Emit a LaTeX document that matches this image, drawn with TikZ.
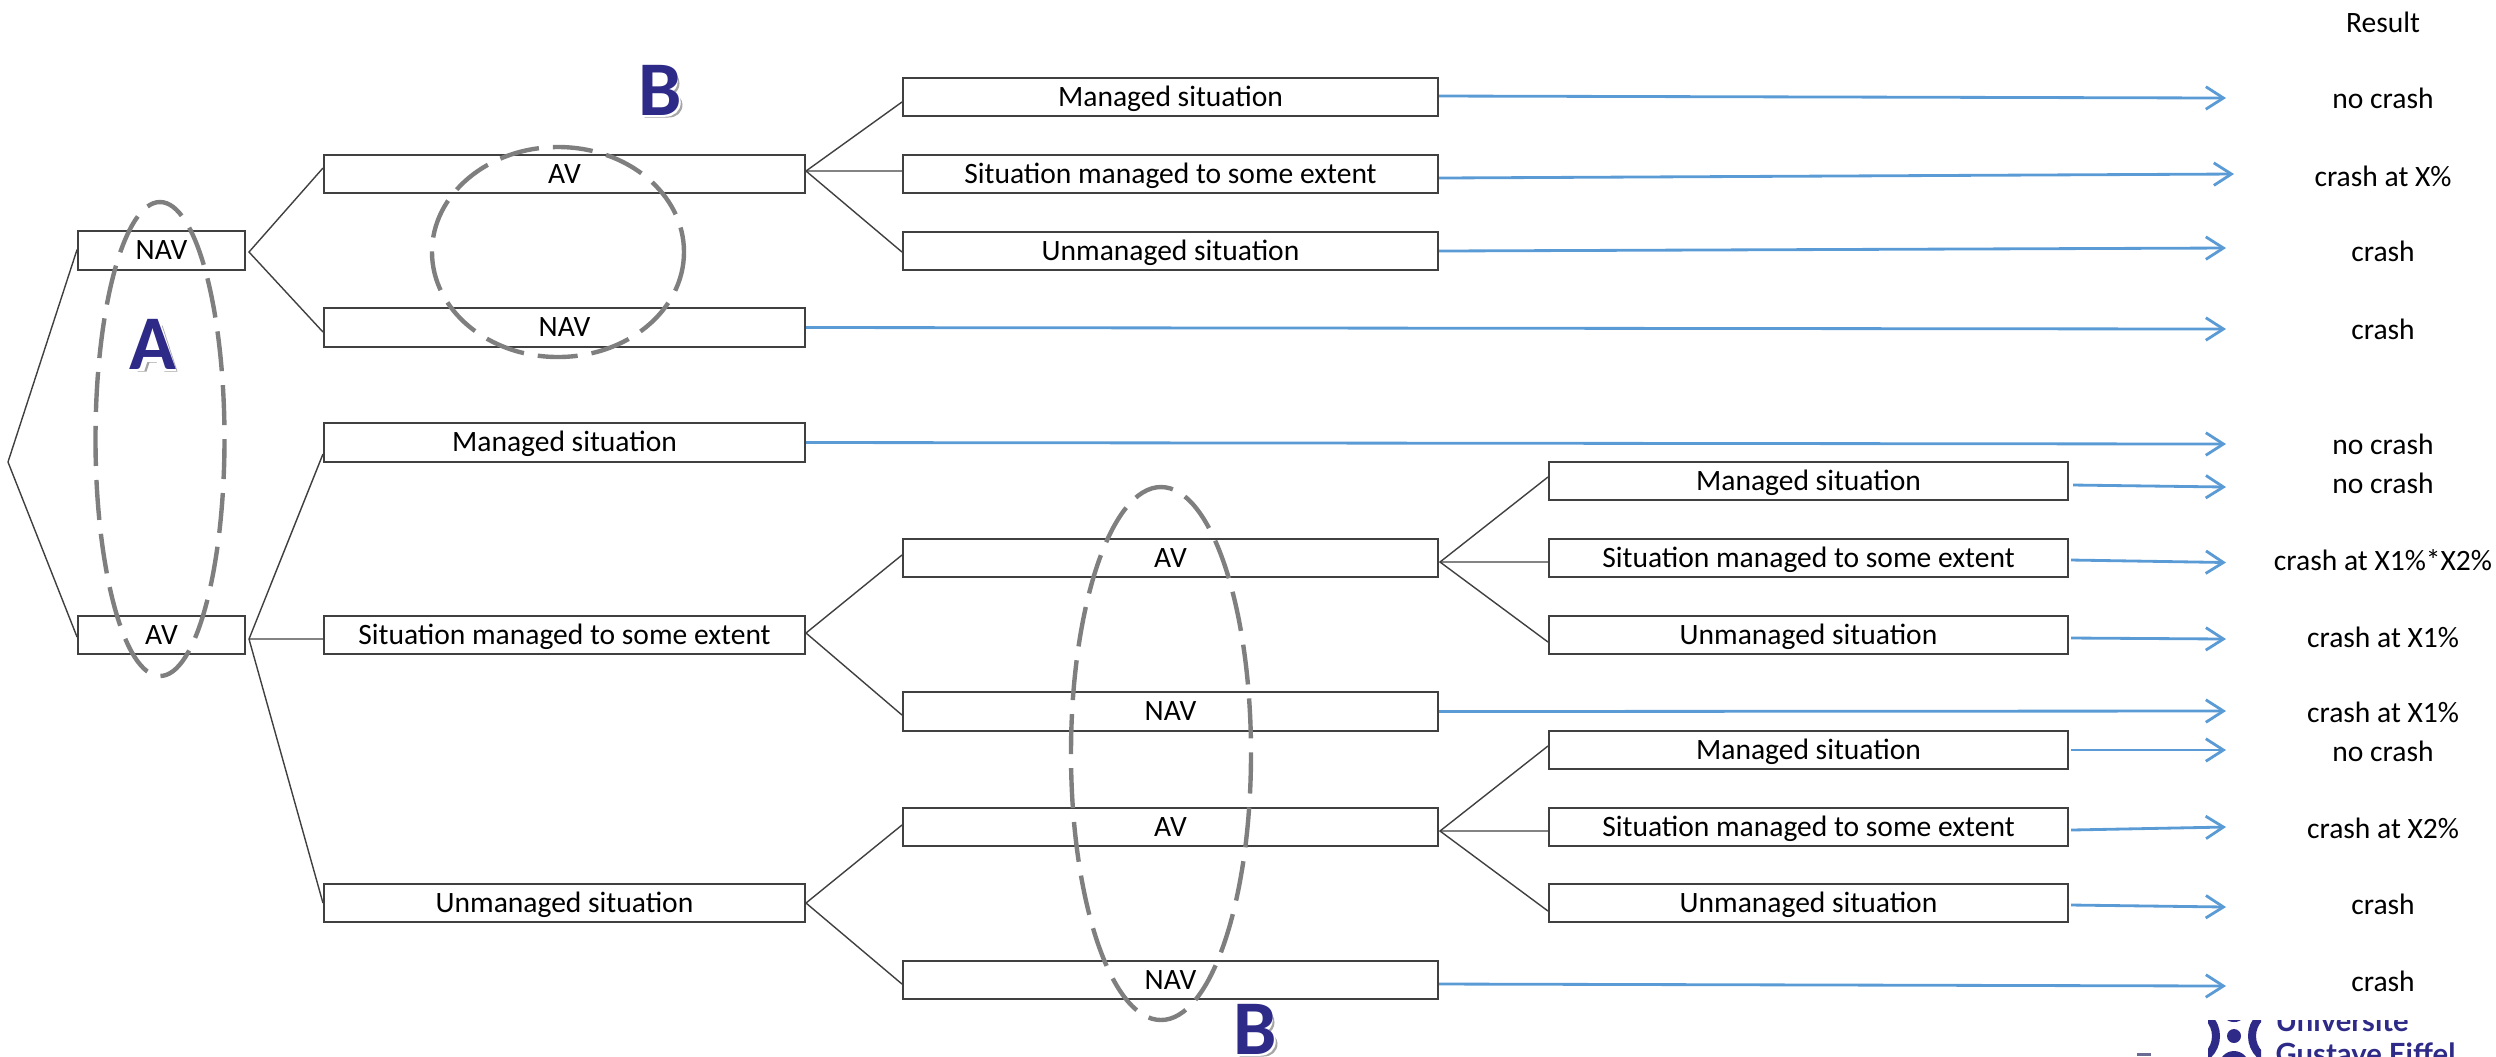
\documentclass[tikz,border=0pt]{standalone}
\usepackage{fontspec}
\setmainfont{Carlito}
\newfontfamily\logofont{Lato}
\usetikzlibrary{arrows.meta}
\definecolor{arrowblue}{HTML}{5B9BD5}
\definecolor{ringgray}{HTML}{7F7F7F}
\definecolor{uni}{HTML}{2E2A87}
\definecolor{edgegray}{HTML}{404040}
\tikzset{
  tbox/.style={draw=edgegray,line width=0.5pt,fill=white,minimum height=0.385cm,inner sep=0pt,text height=5.3pt,text depth=0pt,font=\fontsize{8.4}{10}\selectfont},
  lvlA/.style={tbox,minimum width=1.67cm},
  lvlB/.style={tbox,minimum width=4.81cm},
  lvlC/.style={tbox,minimum width=5.35cm},
  lvlD/.style={tbox,minimum width=5.19cm},
  res/.style={font=\fontsize{8.4}{10}\selectfont,inner sep=0pt},
  link/.style={draw=edgegray,line width=0.4pt},
  flow/.style={draw=arrowblue,line width=0.8pt,-{Straight Barb[length=5pt,width=6.4pt,line width=0.8pt]}},
  ring/.style={draw=ringgray,line width=1.25pt,dash pattern=on 0.40cm off 0.14cm},
  big/.style={font=\bfseries\fontsize{22}{24}\selectfont,text=uni,inner sep=0pt,anchor=base},
  halo/.style={draw=white,line width=1pt,fill=white},
  logotext/.style={font=\logofont\bfseries\fontsize{8.3}{10}\selectfont,text=uni,inner sep=0pt,anchor=base west},
}
\begin{document}
\begin{tikzpicture}[x=0.01cm,y=-0.01cm]
\useasboundingbox (0,0) rectangle (2496,1056);
% boxes
\node[lvlA] (nav) at (161.5,250.5) {NAV};
\node[lvlA] (av) at (161.5,635) {AV};
\node[lvlB] (bav) at (564.5,174) {AV};
\node[lvlB] (bnav) at (564.5,327.5) {NAV};
\node[lvlB] (bm) at (564.5,442.5) {Managed situation};
\node[lvlB] (bs) at (564.5,635) {Situation managed to some extent};
\node[lvlB] (bu) at (564.5,903) {Unmanaged situation};
\node[lvlC] (cm) at (1170.5,97) {Managed situation};
\node[lvlC] (cs) at (1170.5,174) {Situation managed to some extent};
\node[lvlC] (cu) at (1170.5,251) {Unmanaged situation};
\node[lvlC] (dav) at (1170.5,558) {AV};
\node[lvlC] (dnav) at (1170.5,711.5) {NAV};
\node[lvlC] (eav) at (1170.5,827) {AV};
\node[lvlC] (enav) at (1170.5,980) {NAV};
\node[lvlD] (fm) at (1808.5,481) {Managed situation};
\node[lvlD] (fs) at (1808.5,558) {Situation managed to some extent};
\node[lvlD] (fu) at (1808.5,635) {Unmanaged situation};
\node[lvlD] (gm) at (1808.5,750) {Managed situation};
\node[lvlD] (gs) at (1808.5,827) {Situation managed to some extent};
\node[lvlD] (gu) at (1808.5,903) {Unmanaged situation};
% results
\node[res] (r0) at (2383,22) {Result};
\coordinate (t1) at (2226,98);
\coordinate (t2) at (2234,174);
\coordinate (t3) at (2226,248);
\coordinate (t4) at (2226,329);
\coordinate (t5) at (2226,444);
\coordinate (t6) at (2226,487);
\coordinate (t7) at (2226,562.5);
\coordinate (t8) at (2226,639);
\coordinate (t9) at (2226,711);
\coordinate (t10) at (2226,750);
\coordinate (t11) at (2226,827);
\coordinate (t12) at (2226,907);
\coordinate (t13) at (2226,986);
\node[res] (r1) at (2383,98) {no crash};
\node[res] (r2) at (2383,176) {crash at X\%};
\node[res] (r3) at (2383,251) {crash};
\node[res] (r4) at (2383,329) {crash};
\node[res] (r5) at (2383,444) {no crash};
\node[res] (r6) at (2383,483) {no crash};
\node[res] (r7) at (2383,560) {crash at X1\%*X2\%};
\node[res] (r8) at (2383,637) {crash at X1\%};
\node[res] (r9) at (2383,712) {crash at X1\%};
\node[res] (r10) at (2383,751) {no crash};
\node[res] (r11) at (2383,828) {crash at X2\%};
\node[res] (r12) at (2383,904) {crash};
\node[res] (r13) at (2383,981) {crash};
% tree links
\coordinate (root) at (8,462);
\coordinate (aN) at (249,252);
\coordinate (aA) at (249,639);
\coordinate (aB) at (806,171);
\coordinate (aS) at (806,633);
\coordinate (aU) at (806,903);
\coordinate (aD) at (1440,562);
\coordinate (aE) at (1440,831);
\draw[link] ([yshift=0.01cm]nav.west) -- (root) -- ([yshift=-0.02cm]av.west);
\draw[link] ([yshift=0.06cm]bav.west) -- (aN) -- ([yshift=-0.045cm]bnav.west);
\draw[link] ([yshift=-0.115cm]bm.west) -- (aA) -- (bu.west);
\draw[link] (aA) -- ([yshift=-0.04cm]bs.west);
\draw[link] ([yshift=-0.05cm]cm.west) -- (aB) -- ([yshift=-0.01cm]cu.west);
\draw[link] (aB) -- ([yshift=0.03cm]cs.west);
\draw[link] ([yshift=0.03cm]dav.west) -- (aS) -- ([yshift=-0.035cm]dnav.west);
\draw[link] ([yshift=0.02cm]eav.west) -- (aU) -- ([yshift=-0.04cm]enav.west);
\draw[link] ([yshift=0.04cm]fm.west) -- (aD) -- ([yshift=-0.07cm]fu.west);
\draw[link] (aD) -- ([yshift=-0.04cm]fs.west);
\draw[link] ([yshift=0.04cm]gm.west) -- (aE) -- ([yshift=-0.08cm]gu.west);
\draw[link] (aE) -- ([yshift=-0.04cm]gs.west);
% arrows
\draw[flow] ([yshift=0.01cm]cm.east) -- (t1);
\draw[flow] ([yshift=-0.04cm]cs.east) -- (t2);
\draw[flow] (cu.east) -- (t3);
\draw[flow] (bnav.east) -- (t4);
\draw[flow] (bm.east) -- (t5);
\draw[flow] ([xshift=0.04cm,yshift=-0.04cm]fm.east) -- (t6);
\draw[flow] ([xshift=0.02cm,yshift=-0.02cm]fs.east) -- (t7);
\draw[flow] ([xshift=0.02cm,yshift=-0.03cm]fu.east) -- (t8);
\draw[flow] (dnav.east) -- (t9);
\draw[flow] ([xshift=0.02cm]gm.east) -- (t10);
\draw[flow] ([xshift=0.02cm,yshift=-0.03cm]gs.east) -- (t11);
\draw[flow] ([xshift=0.02cm,yshift=-0.02cm]gu.east) -- (t12);
\draw[flow] ([yshift=-0.04cm]enav.east) -- (t13);
% rings
\draw[ring] (160,439) ellipse [x radius=64.5,y radius=237];
\draw[ring] (558,252) ellipse [x radius=126,y radius=105];
\draw[ring] (1161,753.5) ellipse [x radius=90,y radius=266.5];
% letter shadows (vector), real letters on top
\def\letterA{(-19,23) -- (-5,-23) -- (6,-23) -- (21,23) -- (8,23) -- (5,14) -- (-7,14) -- (-10,23) -- cycle}
\def\letterB{(-19,-23) -- (5,-23) .. controls (13,-23) and (16,-17) .. (16,-11) .. controls (16,-6) and (13,-2) .. (10,-1) .. controls (15,1) and (19,5) .. (19,10) .. controls (19,18) and (13,23) .. (5,23) -- (-19,23) -- cycle}
\begin{scope}[shift={(153,346)}]
  \fill[gray!70,shift={(3.5,2.5)}] \letterA;
  \filldraw[halo] \letterA;
\end{scope}
\begin{scope}[shift={(660,92)}]
  \fill[gray!70,shift={(3.5,2.5)}] \letterB;
  \filldraw[halo] \letterB;
\end{scope}
\begin{scope}[shift={(1255,1031)}]
  \fill[gray!70,shift={(3.5,2.5)}] \letterB;
  \filldraw[halo] \letterB;
\end{scope}
\node[big] (la) at (153,369) {A};
\node[big] (lb) at (660,115) {B};
\node[big] (lc) at (1255,1054) {B};
% logo, cut by the lower edge of the picture
\begin{scope}
  \clip (2208,1020) rectangle (2261,1056);
  \draw[uni,line width=0.08cm] (2190,1036) circle [radius=26];
  \draw[uni,line width=0.08cm] (2278,1036) circle [radius=26];
  \fill[uni] (2234,1036) circle [radius=7];
  \fill[uni] (2234,1008) circle [radius=14];
  \fill[uni] (2234,1066) circle [radius=15];
\end{scope}
\begin{scope}
  \clip (2270,1020) rectangle (2496,1056);
  \node[logotext] (u1) at (2275,1031) {Université};
  \node[logotext] (u2) at (2275,1064) {Gustave Eiffel};
\end{scope}
\fill[gray!50!blue!30!gray] (2137,1053) rectangle (2151,1056);
\end{tikzpicture}
\end{document}
